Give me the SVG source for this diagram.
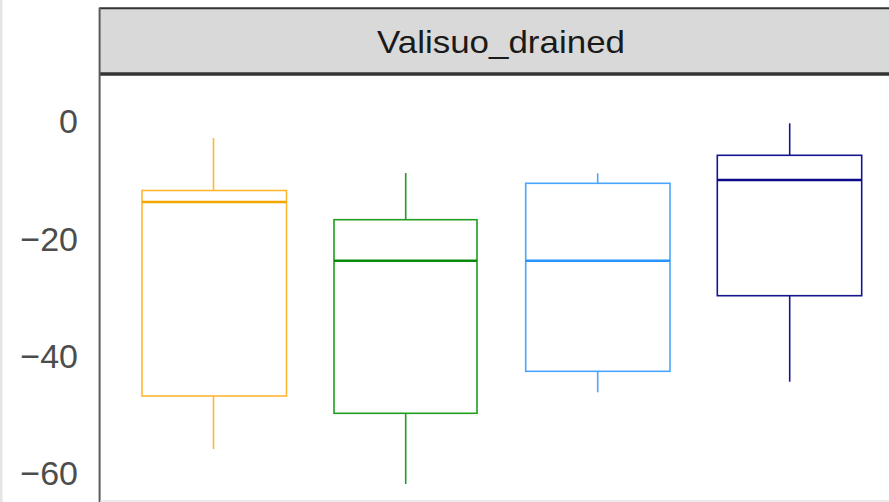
<svg xmlns="http://www.w3.org/2000/svg" width="889" height="502" viewBox="0 0 889 502">
<style>
.ax{font-family:"Liberation Sans",Arial,sans-serif;font-size:34px;fill:#4d4d4d;text-anchor:end}
.title{font-family:"Liberation Sans",Arial,sans-serif;font-size:32px;fill:#1a1a1a;text-anchor:middle}
.box{fill:#ffffff;stroke-width:1.6}
.wh{stroke-width:1.6;fill:none}
.med{stroke-width:2.6}
</style>
<rect x="0" y="0" width="889" height="502" fill="#ffffff"/>
<rect x="0" y="0" width="2.5" height="502" fill="#e4e4e4"/>
<g id="strip">
<rect x="99.5" y="8.3" width="800" height="64.5" fill="#d9d9d9"/>
<line x1="99.5" y1="8.3" x2="889" y2="8.3" stroke="#333333" stroke-width="2"/>
<line x1="99.5" y1="74" x2="889" y2="74" stroke="#333333" stroke-width="3.4"/>
<text class="title" x="501" y="52.5" textLength="248" lengthAdjust="spacingAndGlyphs">Valisuo_drained</text>
</g>
<g id="panel">
<line x1="99.6" y1="7.5" x2="99.6" y2="502" stroke="#5a5a5a" stroke-width="2"/>
<line x1="100.5" y1="501" x2="889" y2="501" stroke="#ebebeb" stroke-width="2"/>
</g>
<g id="yaxis">
<text class="ax" x="78" y="133">0</text>
<text class="ax" x="78" y="251">−20</text>
<text class="ax" x="78" y="368">−40</text>
<text class="ax" x="78" y="485">−60</text>
</g>
<g id="box1" stroke="#FFB733">
<line class="wh" x1="213.5" y1="138" x2="213.5" y2="190.5"/>
<line class="wh" x1="213.5" y1="396" x2="213.5" y2="449"/>
<rect class="box" x="142" y="190.5" width="144.5" height="205.5"/>
<line class="med" x1="142" y1="202" x2="286.5" y2="202" stroke="#F2A600"/>
</g>
<g id="box2" stroke="#1F9E1F">
<line class="wh" x1="405.7" y1="173" x2="405.7" y2="219.7"/>
<line class="wh" x1="405.7" y1="413.3" x2="405.7" y2="484"/>
<rect class="box" x="334" y="219.7" width="143" height="193.6"/>
<line class="med" x1="334" y1="260.7" x2="477" y2="260.7" stroke="#088A08"/>
</g>
<g id="box3" stroke="#4AA5FF">
<line class="wh" x1="597.7" y1="173.3" x2="597.7" y2="183.3"/>
<line class="wh" x1="597.7" y1="371.3" x2="597.7" y2="392.3"/>
<rect class="box" x="525.7" y="183.3" width="144.3" height="188"/>
<line class="med" x1="525.7" y1="260.7" x2="670" y2="260.7" stroke="#2B93FF"/>
</g>
<g id="box4" stroke="#15158F">
<line class="wh" x1="789.7" y1="123.3" x2="789.7" y2="155.3"/>
<line class="wh" x1="789.7" y1="295.7" x2="789.7" y2="381.7"/>
<rect class="box" x="717.3" y="155.3" width="144.4" height="140.4"/>
<line class="med" x1="717.3" y1="180" x2="861.7" y2="180" stroke="#0A0A8A"/>
</g>
</svg>
